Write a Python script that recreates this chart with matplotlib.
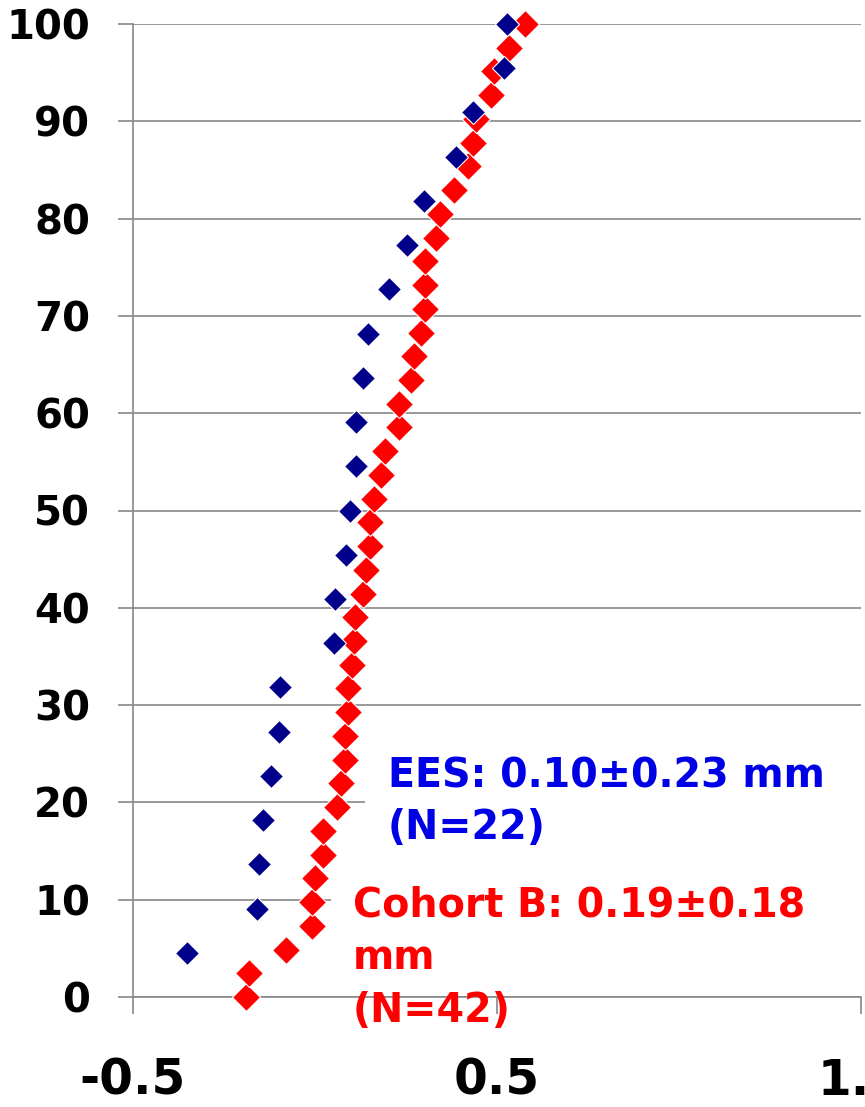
import matplotlib
matplotlib.use("Agg")
import matplotlib.pyplot as plt
from matplotlib.patches import Rectangle

# ---- data ----
ees_pct = [4.55, 9.09, 13.64, 18.18, 22.73, 27.27, 31.82, 36.36, 40.91, 45.45, 50.0,
           54.55, 59.09, 63.64, 68.18, 72.73, 77.27, 81.82, 86.36, 90.91, 95.45, 100.0]
ees_val = [-0.352, -0.159, -0.154, -0.143, -0.121, -0.099, -0.096, 0.052, 0.055, 0.085, 0.096,
           0.113, 0.113, 0.132, 0.146, 0.203, 0.253, 0.299, 0.387, 0.434, 0.519, 0.527]

cohort_pct = [0.0, 2.44, 4.88, 7.32, 9.76, 12.2, 14.63, 17.07, 19.51, 21.95, 24.39,
              26.83, 29.27, 31.71, 34.15, 36.59, 39.02, 41.46, 43.9, 46.34, 48.78,
              51.22, 53.66, 56.1, 58.54, 60.98, 63.41, 65.85, 68.29, 70.73, 73.17,
              75.61, 78.05, 80.49, 82.93, 85.37, 87.8, 90.24, 92.68, 95.12, 97.56, 100.0]
cohort_val = [-0.190, -0.181, -0.080, -0.008, -0.008, 0.000, 0.022, 0.022, 0.060, 0.071, 0.082,
              0.082, 0.091, 0.091, 0.102, 0.107, 0.110, 0.132, 0.140, 0.151, 0.151,
              0.162, 0.181, 0.192, 0.231, 0.231, 0.264, 0.272, 0.291, 0.302, 0.302,
              0.302, 0.332, 0.343, 0.382, 0.420, 0.434, 0.442, 0.483, 0.492, 0.533, 0.577]

x_ticks = [-0.5, 0.5, 1.5]
x_tick_labels = ["-0.5", "0.5", "1.5"]
y_ticks = [0, 10, 20, 30, 40, 50, 60, 70, 80, 90, 100]
y_tick_labels = [str(v) for v in y_ticks]

ees_label = "EES: 0.10\u00b10.23 mm\n(N=22)"
cohort_label = "Cohort B: 0.19\u00b10.18\nmm\n(N=42)"

# ---- style ----
plt.rcParams['font.family'] = ['DejaVu Sans']
GRID = "#888888"

fig = plt.figure(figsize=(8.65, 11.07), dpi=100)
ax = fig.add_axes([133/865, 1 - 997/1107, (861-133)/865, (997-24)/1107])

ax.set_xlim(-0.5, 1.5)
ax.set_ylim(0, 100)

ax.set_axisbelow(True)
ax.yaxis.grid(True, color=GRID, linewidth=1.2)
ax.xaxis.grid(False)

for s in ["top", "right"]:
    ax.spines[s].set_visible(False)
for s in ["left", "bottom"]:
    ax.spines[s].set_color(GRID)
    ax.spines[s].set_linewidth(1.2)

ax.set_xticks(x_ticks)
ax.set_xticklabels(x_tick_labels, fontsize=35, fontweight="bold")
ax.set_yticks(y_ticks)
ax.set_yticklabels(y_tick_labels, fontsize=29, fontweight="bold")
ax.tick_params(axis="y", direction="out", length=11, width=1.2, color=GRID, pad=20)
ax.tick_params(axis="x", direction="out", length=12.5, width=1.2, color=GRID, pad=30)

# white text-box backgrounds (hide gridlines behind annotations)
ax.add_patch(Rectangle((0.137, 15.0), 1.5 - 0.137, 13.0, facecolor="white",
                       edgecolor="none", zorder=1, clip_on=False))
ax.add_patch(Rectangle((0.044, 1.2), 1.5 - 0.044, 12.4, facecolor="white",
                       edgecolor="none", zorder=1, clip_on=False))

ax.plot(cohort_val, cohort_pct, linestyle="none", marker="D", markersize=13.8,
        markerfacecolor="#FF0000", markeredgecolor="white", markeredgewidth=0.8,
        zorder=3, clip_on=False)
ax.plot(ees_val, ees_pct, linestyle="none", marker="D", markersize=12.3,
        markerfacecolor="#00008B", markeredgecolor="white", markeredgewidth=0.8,
        zorder=4, clip_on=False)

ax.text(0.2005, 24.67, ees_label, color="#0000E6", fontsize=28.5, fontweight="bold",
        ha="left", va="top", linespacing=1.36, zorder=5)
ax.text(0.104, 11.41, cohort_label, color="#FF0000", fontsize=28.5, fontweight="bold",
        ha="left", va="top", linespacing=1.40, zorder=5)

fig.savefig("out.png", dpi=100)
